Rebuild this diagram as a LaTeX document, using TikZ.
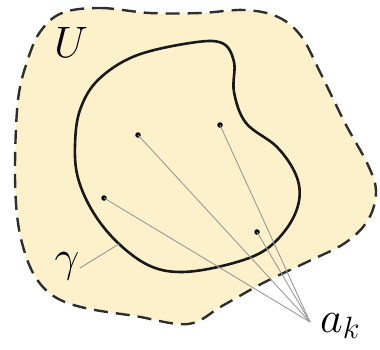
\RequirePackage{fix-cm}
\documentclass[tikz,border=0pt]{standalone}
\usepackage{amsmath}
\usepackage{xcolor}
\usepackage{tikz}
\usetikzlibrary{positioning}

\definecolor{regionfill}{HTML}{FDF1CB}
\definecolor{edgegray}{HTML}{2E2E2E}

\tikzset{
  region/.style={fill=regionfill, draw=edgegray, line width=2.4pt, dash pattern=on 14pt off 8pt},
  contour/.style={draw=black!90, line width=2.6pt},
  pole/.style={circle, fill=black, inner sep=0pt, minimum size=5.5pt},
  ray/.style={draw=gray!80, line width=0.9pt},
  biglabel/.style={font=\fontsize{44}{44}\selectfont, inner sep=0pt}
}

\begin{document}
\begin{tikzpicture}[x=1pt, y=-1pt]
    \useasboundingbox (0,0) rectangle (380,349);

    % Region U
    \path[region] plot[smooth cycle, tension=0.6] coordinates {
        (62,13) (100,8) (150,13) (200,13) (245,10) (278,17) (301,36)
        (320,72) (345,123) (368,165) (376,192) (368,220) (345,243)
        (307,262) (263,283) (222,306) (188,324) (135,316) (85,308)
        (55,297) (36,278) (24,250) (17,215) (15,165) (18,100) (27,62) (40,32)};

    % Contour gamma
    \path[contour] plot[smooth cycle, tension=0.6] coordinates {
        (190,43) (222,43) (234,62) (234,92) (246,123) (277,147)
        (296,175) (299,201) (287,228) (262,252) (222,266) (180,272)
        (148,265) (117,242) (93,212) (78,178) (75,145) (80,110)
        (98,80) (135,56)};

    % Poles
    \node[pole] (p1) at (138,135) {};
    \node[pole] (p2) at (220,125) {};
    \node[pole] (p3) at (104,198) {};
    \node[pole] (p4) at (257,232) {};

    \coordinate (apex) at (310,322);
    \coordinate (touch) at (119,244);

    \foreach \p in {p1,p2,p3,p4} {
        \draw[ray] (\p.center) -- (apex);
    }

    % Labels
    \node[biglabel] (U) at (71,42) {$U$};
    \node[biglabel] (gamma) at (67,266) {$\gamma$};
    \node[biglabel, anchor=west] (ak) at (320,326) {$a_k$};
    \draw[ray] (80,268) -- (touch);
\end{tikzpicture}
\end{document}
